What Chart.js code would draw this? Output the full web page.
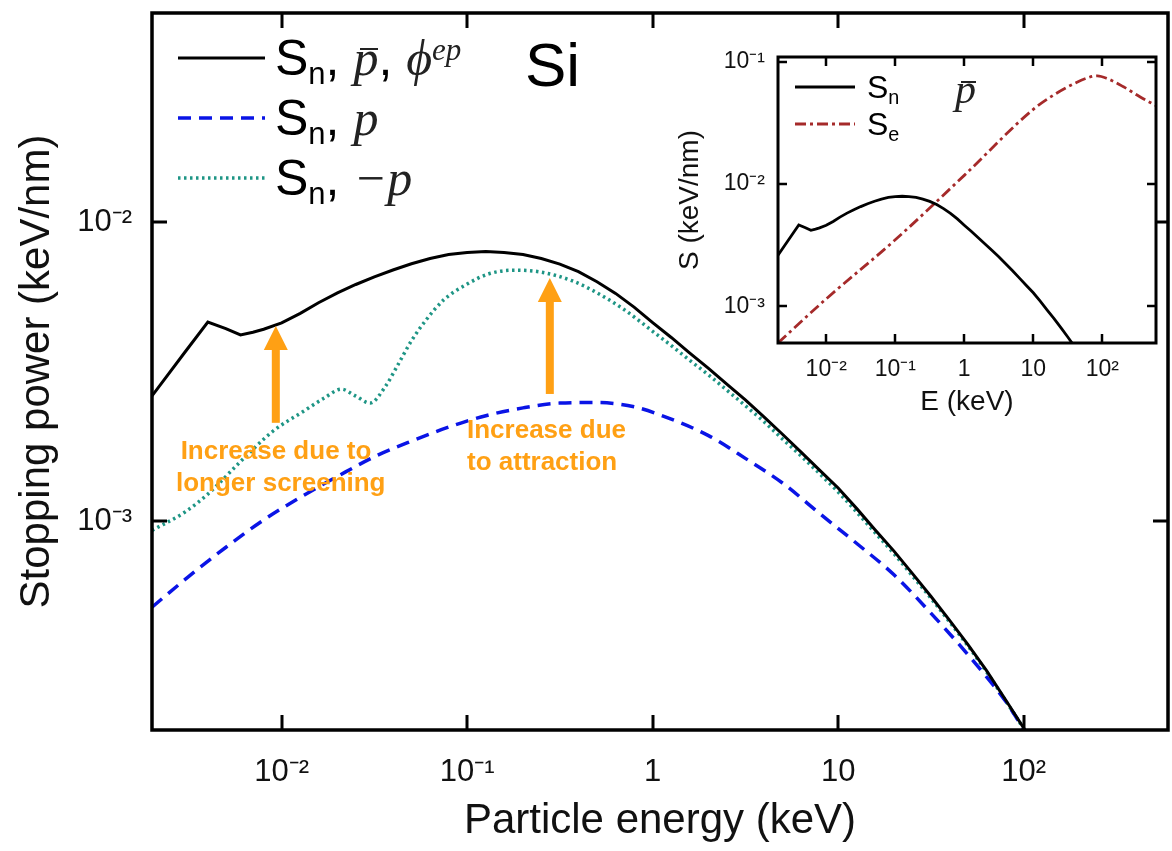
<!DOCTYPE html>
<html><head><meta charset="utf-8">
<script src="https://cdn.jsdelivr.net/npm/chart.js@4/dist/chart.umd.min.js"></script>
<style>
html,body{margin:0;padding:0;background:#fff;}
#wrap{position:relative;width:1172px;height:851px;overflow:hidden;background:#fff;}
canvas{position:absolute;}
.t{position:absolute;white-space:nowrap;line-height:1;color:#000;}
.sans{font-family:"Liberation Sans",Arial,sans-serif;}
.m{font-family:"Liberation Serif","DejaVu Serif",serif;font-style:italic;color:#222;}
.sub{font-size:0.62em;position:relative;top:0.28em;}
.sup{font-size:0.62em;position:relative;top:-0.5em;}
.pb{position:relative;display:inline-block;}
.pb::before{content:"";position:absolute;left:0.14em;right:0.0em;top:0.30em;border-top:0.05em solid currentColor;}
.ann{position:absolute;font-family:"Liberation Sans",Arial,sans-serif;font-weight:bold;font-size:26px;color:#FFA014;line-height:32px;white-space:nowrap;}
</style></head>
<body>
<div id="wrap">
<canvas id="main" width="1172" height="851" style="left:0;top:0"></canvas>
<canvas id="inset" width="528" height="400" style="left:640px;top:30px"></canvas>

<div class="t" style="left:275px;top:33px;font-size:50px;"><span class="sans">S<span class="sub">n</span>, </span><span class="m"><span class="pb">p</span></span><span class="sans">, </span><span class="m">ϕ<span class="sup">ep</span></span></div>
<div class="t" style="left:275px;top:93px;font-size:50px;"><span class="sans">S<span class="sub">n</span>, </span><span class="m">p</span></div>
<div class="t" style="left:275px;top:153px;font-size:50px;"><span class="sans">S<span class="sub">n</span>, </span><span class="m">−p</span></div>
<div class="t sans" style="left:525px;top:34px;font-size:62px;">Si</div>

<div class="t sans" style="left:867px;top:71px;font-size:32px;">S<span class="sub">n</span></div>
<div class="t sans" style="left:867px;top:108px;font-size:32px;">S<span class="sub">e</span></div>
<div class="t m" style="left:955px;top:68px;font-size:42px;"><span class="pb">p</span></div>

<div class="ann" style="left:176px;top:434px;width:200px;text-align:center;">Increase due to<br>longer screening</div>
<div class="ann" style="left:467px;top:413px;">Increase due<br>to attraction</div>
</div>

<script>
// ---------- data ----------
const E_pbar = [0.002,0.003,0.004,0.005,0.006,0.007,0.008,0.01,0.0126,0.0158,0.02,0.0251,0.0316,0.0398,0.0501,0.0631,0.0794,0.1,0.126,0.158,0.2,0.251,0.316,0.398,0.501,0.631,0.794,1,1.26,1.58,2,2.51,3.16,3.98,5.01,6.31,7.94,10,12.6,15.8,20,25.1,31.6,39.8,50.1,63.1,79.4,100,126,158];
const S_pbar = [0.00262,0.00366,0.00463,0.0044,0.00419,0.00428,0.00438,0.0046,0.00495,0.00537,0.00579,0.00618,0.00655,0.00691,0.00725,0.00755,0.00778,0.00791,0.00796,0.00791,0.00778,0.00755,0.00723,0.00682,0.00631,0.00577,0.00519,0.00461,0.00411,0.00365,0.00324,0.00287,0.00254,0.00223,0.00195,0.0017,0.00148,0.00129,0.0011,0.000935,0.000793,0.000668,0.00056,0.000466,0.000386,0.000316,0.000254,0.000203,0.00016,0.000126];

const E_pos = [0.002,0.00316,0.00501,0.00794,0.0126,0.02,0.0316,0.0501,0.0794,0.126,0.2,0.316,0.501,0.794,1.26,2,3.16,5.01,7.94,12.6,20,31.6,50.1,79.4,100,158];
const S_pos = [0.000515,0.000653,0.000817,0.001005,0.0012,0.00141,0.00164,0.00185,0.00206,0.00225,0.00239,0.00248,0.00249,0.00241,0.00219,0.00193,0.00162,0.00134,0.00106,0.000841,0.000661,0.000492,0.000357,0.000251,0.000202,0.000135];

const E_neg = [0.002,0.003,0.004,0.006,0.009,0.013,0.017,0.021,0.025,0.03,0.036,0.042,0.05,0.06,0.075,0.1,0.13,0.18,0.25,0.37,0.5,0.7,1,1.26,1.58,2,2.51,3.16,3.98,5.01,6.31,7.94,10,12.6,15.8,20,25.1,31.6,39.8,50.1,63.1,79.4,100,126,158];
const S_neg = [0.00093,0.00107,0.00123,0.00158,0.0020,0.00232,0.00258,0.00276,0.00262,0.00248,0.0028,0.0033,0.0040,0.0047,0.0055,0.0062,0.0067,0.0069,0.0068,0.00635,0.0058,0.0051,0.00431,0.00386,0.00345,0.00308,0.00274,0.00243,0.00215,0.00188,0.00165,0.00144,0.00125,0.00107,0.000914,0.000777,0.000656,0.000552,0.00046,0.000382,0.000313,0.000252,0.000202,0.000159,0.000125];

const E_se = [0.002,0.01,0.1,1,10,20,40,60,85,120,200,350,600];
const S_se = [0.0005,0.00115,0.0035,0.0118,0.041,0.054,0.067,0.074,0.0772,0.073,0.063,0.052,0.044];

const xTickValues = [0.01,0.1,1,10,100];
const xTickLabels = ['10⁻²','10⁻¹','1','10','10²'];
const yTickValuesMain = [0.001,0.01];
const yTickLabelsMain = ['10⁻³','10⁻²'];
const yTickValuesInset = [0.001,0.01,0.1];
const yTickLabelsInset = ['10⁻³','10⁻²','10⁻¹'];

// annotation arrows (energy, tail S, tip S)
const arrowE = [0.0093, 0.279];
const arrowTail = [0.00213, 0.00266];
const arrowTip = [0.00449, 0.0065];

const pts = (xs, ys) => xs.map((x, i) => ({x: x, y: ys[i]}));

// ---------- plugins ----------
function frame(id, lw, tl) {
  return {
    id: id,
    beforeDraw(chart) {
      if (id !== 'insetFrame') return;
      const a = chart.chartArea, ctx = chart.ctx;
      ctx.save(); ctx.fillStyle = '#fff';
      ctx.fillRect(a.left, a.top, a.right - a.left, a.bottom - a.top);
      ctx.restore();
    },
    afterDatasetsDraw(chart) {
      const {ctx, chartArea: a, scales: {x, y}} = chart;
      ctx.save();
      ctx.strokeStyle = '#000'; ctx.lineWidth = lw; ctx.lineCap = 'butt';
      ctx.beginPath();
      x.ticks.forEach(t => {
        const p = Math.round(x.getPixelForValue(t.value));
        ctx.moveTo(p, a.bottom); ctx.lineTo(p, a.bottom - tl);
        ctx.moveTo(p, a.top); ctx.lineTo(p, a.top + tl);
      });
      y.ticks.forEach(t => {
        const p = Math.round(y.getPixelForValue(t.value));
        ctx.moveTo(a.left, p); ctx.lineTo(a.left + tl, p);
        ctx.moveTo(a.right, p); ctx.lineTo(a.right - tl, p);
      });
      ctx.stroke();
      ctx.lineWidth = lw + 0.5;
      ctx.strokeRect(a.left, a.top, a.right - a.left, a.bottom - a.top);
      ctx.restore();
    }
  };
}

function legendSwatches(id, x0, x1, ys, offX, offY) {
  return {
    id: id,
    afterDraw(chart) {
      const ctx = chart.ctx;
      chart.data.datasets.forEach((ds, i) => {
        if (ys[i] == null) return;
        ctx.save();
        ctx.strokeStyle = ds.borderColor; ctx.lineWidth = ds.borderWidth;
        ctx.setLineDash(ds.borderDash || []);
        ctx.beginPath();
        ctx.moveTo(x0 - offX, ys[i] - offY); ctx.lineTo(x1 - offX, ys[i] - offY);
        ctx.stroke(); ctx.restore();
      });
    }
  };
}

const arrowsPlugin = {
  id: 'arrows',
  afterDatasetsDraw(chart) {
    const {ctx, scales: {x, y}} = chart;
    ctx.save(); ctx.fillStyle = '#FFA014';
    arrowE.forEach((e, i) => {
      const px = x.getPixelForValue(e);
      const yt = y.getPixelForValue(arrowTail[i]);
      const yh = y.getPixelForValue(arrowTip[i]);
      const headLen = 24, headHalf = 12, shaft = 4;
      ctx.fillRect(px - shaft, yh + headLen - 1, shaft * 2, yt - (yh + headLen - 1));
      ctx.beginPath();
      ctx.moveTo(px, yh); ctx.lineTo(px + headHalf, yh + headLen); ctx.lineTo(px - headHalf, yh + headLen);
      ctx.closePath(); ctx.fill();
    });
    ctx.restore();
  }
};

const FONT = '"Liberation Sans", Arial, sans-serif';
const noPadY = s => { s.paddingTop = 0; s.paddingBottom = 0; };
const noPadX = s => { s.paddingLeft = 0; s.paddingRight = 0; };

// ---------- main chart ----------
new Chart(document.getElementById('main'), {
  type: 'line',
  data: {
    datasets: [
      {label: 'Sn, p̄, ϕep', data: pts(E_pbar, S_pbar), borderColor: '#000', borderWidth: 3, tension: 0, pointRadius: 0},
      {label: 'Sn, p', data: pts(E_pos, S_pos), borderColor: '#0a14e6', borderWidth: 3.5, borderDash: [13, 8], cubicInterpolationMode: 'monotone', pointRadius: 0},
      {label: 'Sn, −p', data: pts(E_neg, S_neg), borderColor: '#1e9585', borderWidth: 3.5, borderDash: [2.5, 3.5], cubicInterpolationMode: 'monotone', pointRadius: 0}
    ]
  },
  options: {
    responsive: false, animation: false, events: [], devicePixelRatio: 1,
    layout: {padding: {left: 0, top: 13, right: 4, bottom: 0}},
    plugins: {legend: {display: false}, tooltip: {enabled: false}},
    scales: {
      x: {
        type: 'logarithmic', min: 0.002, max: 600,
        grid: {display: false, drawTicks: false}, border: {display: false},
        afterBuildTicks: s => { s.ticks = xTickValues.map(v => ({value: v})); },
        afterFit: s => { s.height = 121; noPadX(s); },
        ticks: {autoSkip: false, maxRotation: 0, padding: 24, color: '#111', font: {family: FONT, size: 31},
          callback: (v) => xTickLabels[xTickValues.indexOf(v)] ?? ''},
        title: {display: true, text: 'Particle energy (keV)', color: '#111', font: {family: FONT, size: 42}, padding: {top: 0, bottom: 4}}
      },
      y: {
        type: 'logarithmic', min: 0.0002, max: 0.05,
        grid: {display: false, drawTicks: false}, border: {display: false},
        afterBuildTicks: s => { s.ticks = yTickValuesMain.map(v => ({value: v})); },
        afterFit: s => { s.width = 152; noPadY(s); },
        ticks: {autoSkip: false, padding: 20, color: '#111', font: {family: FONT, size: 31},
          callback: (v) => yTickLabelsMain[yTickValuesMain.indexOf(v)] ?? ''},
        title: {display: true, text: 'Stopping power (keV/nm)', color: '#111', font: {family: FONT, size: 42}, padding: {top: 12, bottom: 0}}
      }
    }
  },
  plugins: [frame('mainFrame', 3, 15), arrowsPlugin, legendSwatches('mainLegend', 178, 265, [58, 118, 178], 0, 0)]
});

// ---------- inset chart ----------
new Chart(document.getElementById('inset'), {
  type: 'line',
  data: {
    datasets: [
      {label: 'Sn', data: pts(E_pbar, S_pbar), borderColor: '#000', borderWidth: 2.8, tension: 0, pointRadius: 0},
      {label: 'Se', data: pts(E_se, S_se), borderColor: '#a52a2a', borderWidth: 2.8, borderDash: [11, 4, 3, 4], cubicInterpolationMode: 'monotone', pointRadius: 0}
    ]
  },
  options: {
    responsive: false, animation: false, events: [], devicePixelRatio: 1,
    layout: {padding: {left: 0, top: 27, right: 12, bottom: 0}},
    plugins: {legend: {display: false}, tooltip: {enabled: false}},
    scales: {
      x: {
        type: 'logarithmic', min: 0.002, max: 600,
        grid: {display: false, drawTicks: false}, border: {display: false},
        afterBuildTicks: s => { s.ticks = xTickValues.map(v => ({value: v})); },
        afterFit: s => { s.height = 87; noPadX(s); },
        ticks: {autoSkip: false, maxRotation: 0, padding: 13, color: '#111', font: {family: FONT, size: 23},
          callback: (v) => xTickLabels[xTickValues.indexOf(v)] ?? ''},
        title: {display: true, text: 'E (keV)', color: '#111', font: {family: FONT, size: 28}, padding: {top: 0, bottom: 11}}
      },
      y: {
        type: 'logarithmic', min: 0.0005, max: 0.11,
        grid: {display: false, drawTicks: false}, border: {display: false},
        afterBuildTicks: s => { s.ticks = yTickValuesInset.map(v => ({value: v})); },
        afterFit: s => { s.width = 138; noPadY(s); },
        ticks: {autoSkip: false, padding: 13, color: '#111', font: {family: FONT, size: 23},
          callback: (v) => yTickLabelsInset[yTickValuesInset.indexOf(v)] ?? ''},
        title: {display: true, text: 'S (keV/nm)', color: '#111', font: {family: FONT, size: 28}, padding: {top: 33, bottom: 0}}
      }
    }
  },
  plugins: [frame('insetFrame', 2.5, 9), legendSwatches('insetLegend', 795, 855, [87, 124], 640, 30)]
});
</script>
</body></html>
